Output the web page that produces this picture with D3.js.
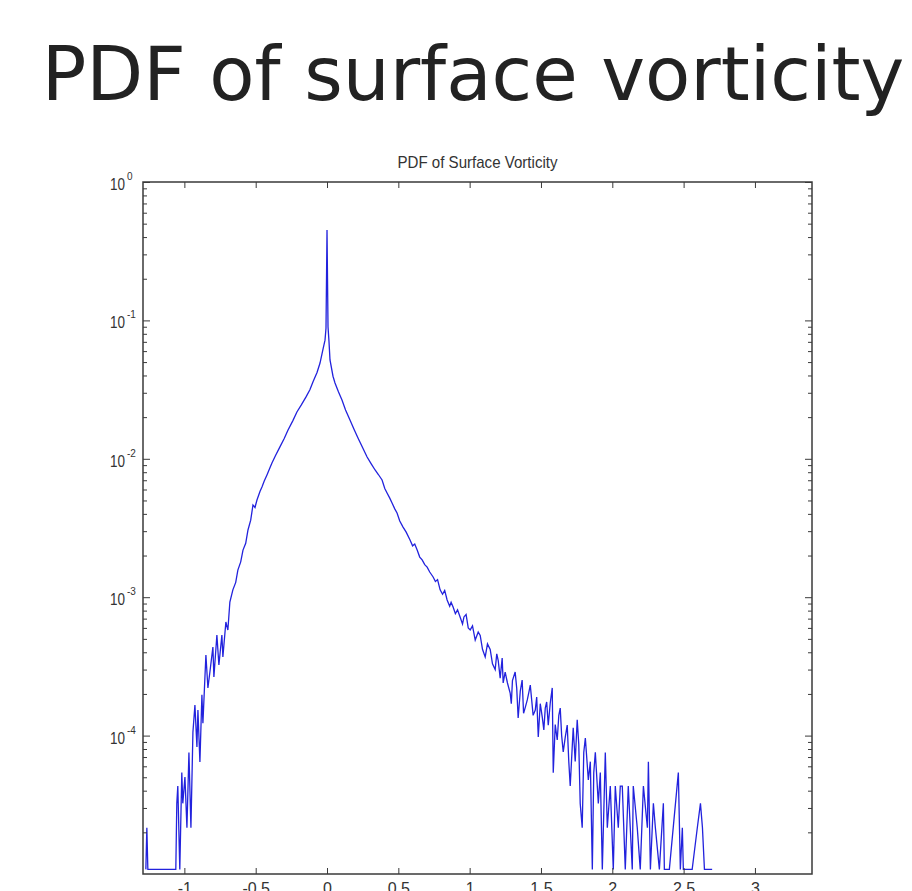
<!DOCTYPE html>
<html>
    <head>
        <meta charset="utf-8">
        <style type="text/css">
            body { margin: 0; background: #fff; }
            svg { display: block; }
        </style>
        <title>PDF of surface vorticity</title>
    </head>
    <body>
        <svg id='svgZone'></svg>
        <script src="https://cdn.jsdelivr.net/npm/d3@7"></script>
        <script>

// ============ Data ============
var PAGE_TITLE = 'PDF of surface vorticity';
var PLOT_TITLE = 'PDF of Surface Vorticity';

// vorticity bins (x) and pdf values (y), left tail -> peak -> right tail
var vortX = [
    -1.270, -1.263, -1.256, -1.060, -1.053, -1.046, -1.032, -1.018, -1.011, -0.996,
    -0.982, -0.968, -0.954, -0.940, -0.926, -0.912, -0.905, -0.891, -0.877, -0.870,
    -0.849, -0.835, -0.821, -0.800, -0.793, -0.772, -0.758, -0.737, -0.730, -0.709,
    -0.695, -0.681, -0.660, -0.640, -0.625, -0.605, -0.589, -0.570, -0.554, -0.535,
    -0.519, -0.505, -0.491, -0.470, -0.456, -0.440, -0.421, -0.400, -0.386, -0.360,
    -0.330, -0.300, -0.274, -0.240, -0.211, -0.180, -0.147, -0.120, -0.098, -0.070,
    -0.049, -0.028, -0.014, -0.007, 0.000, 0.007, 0.014, 0.021, 0.042, 0.056,
    0.080, 0.105, 0.130, 0.161, 0.190, 0.218, 0.250, 0.281, 0.310, 0.337,
    0.360, 0.386, 0.405, 0.421, 0.440, 0.456, 0.475, 0.491, 0.510, 0.533,
    0.555, 0.582, 0.600, 0.615, 0.632, 0.650, 0.667, 0.685, 0.702, 0.720,
    0.744, 0.760, 0.775, 0.793, 0.810, 0.825, 0.842, 0.860, 0.870, 0.884,
    0.900, 0.915, 0.933, 0.950, 0.960, 0.975, 0.990, 1.004, 1.020, 1.039,
    1.060, 1.074, 1.090, 1.109, 1.125, 1.144, 1.160, 1.179, 1.190, 1.200,
    1.214, 1.228, 1.235, 1.249, 1.265, 1.284, 1.292, 1.300, 1.319, 1.330,
    1.340, 1.355, 1.368, 1.378, 1.390, 1.404, 1.415, 1.425, 1.445, 1.460,
    1.470, 1.481, 1.495, 1.509, 1.520, 1.530, 1.540, 1.551, 1.565, 1.579,
    1.586, 1.600, 1.614, 1.625, 1.635, 1.645, 1.656, 1.670, 1.684, 1.695,
    1.705, 1.726, 1.740, 1.754, 1.765, 1.775, 1.789, 1.800, 1.811, 1.832,
    1.846, 1.860, 1.870, 1.881, 1.902, 1.916, 1.930,
    1.951, 1.965, 1.986, 2.007, 2.021, 2.042,
    2.056, 2.070, 2.091, 2.112, 2.126, 2.140, 2.147, 2.175, 2.196, 2.218,
    2.246, 2.253, 2.267, 2.288, 2.302, 2.330, 2.358, 2.365, 2.400, 2.463,
    2.477, 2.491, 2.498, 2.560, 2.596, 2.618, 2.632, 2.646, 2.700
];
var pdfY = [
    1.08e-5, 2.16e-5, 1.08e-5, 1.08e-5, 3.24e-5, 4.32e-5, 1.08e-5, 5.40e-5, 3.24e-5, 5.02e-5,
    2.16e-5, 7.56e-5, 2.16e-5, 1.06e-4, 1.66e-4, 8.27e-5, 1.53e-4, 6.45e-5, 1.97e-4, 1.23e-4,
    3.82e-4, 2.21e-4, 2.88e-4, 4.37e-4, 2.65e-4, 5.33e-4, 3.24e-4, 5.33e-4, 3.70e-4, 6.62e-4,
    5.79e-4, 9.23e-4, 1.13e-3, 1.28e-3, 1.57e-3, 1.80e-3, 2.19e-3, 2.45e-3, 3.06e-3, 3.60e-3,
    4.64e-3, 4.45e-3, 5.04e-3, 5.80e-3, 6.25e-3, 6.90e-3, 7.64e-3, 8.60e-3, 9.33e-3, 1.06e-2,
    1.22e-2, 1.40e-2, 1.61e-2, 1.88e-2, 2.18e-2, 2.45e-2, 2.80e-2, 3.15e-2, 3.60e-2, 4.20e-2,
    4.92e-2, 6.20e-2, 7.20e-2, 8.80e-2, 4.50e-1, 9.00e-2, 7.00e-2, 5.18e-2, 3.95e-2, 3.53e-2,
    3.05e-2, 2.66e-2, 2.25e-2, 1.91e-2, 1.63e-2, 1.41e-2, 1.20e-2, 1.03e-2, 9.20e-3, 8.30e-3,
    7.70e-3, 7.03e-3, 6.10e-3, 5.66e-3, 5.20e-3, 4.80e-3, 4.35e-3, 4.06e-3, 3.55e-3, 3.21e-3,
    2.95e-3, 2.59e-3, 2.35e-3, 2.42e-3, 2.19e-3, 1.95e-3, 1.86e-3, 1.72e-3, 1.65e-3, 1.52e-3,
    1.40e-3, 1.30e-3, 1.34e-3, 1.13e-3, 1.05e-3, 1.12e-3, 9.55e-4, 8.60e-4, 9.20e-4, 8.49e-4,
    7.60e-4, 8.10e-4, 7.19e-4, 6.40e-4, 7.20e-4, 7.50e-4, 6.00e-4, 5.80e-4, 6.20e-4, 4.90e-4,
    5.60e-4, 5.30e-4, 4.20e-4, 3.70e-4, 4.60e-4, 4.20e-4, 3.30e-4, 3.00e-4, 3.90e-4, 3.50e-4,
    2.60e-4, 3.64e-4, 2.40e-4, 2.88e-4, 2.40e-4, 2.03e-4, 1.70e-4, 2.50e-4, 2.88e-4, 2.20e-4,
    1.34e-4, 2.10e-4, 2.52e-4, 1.45e-4, 1.60e-4, 1.81e-4, 2.05e-4, 2.32e-4, 1.40e-4, 1.53e-4,
    1.90e-4, 9.77e-5, 1.70e-4, 1.36e-4, 1.10e-4, 1.58e-4, 1.75e-4, 1.19e-4, 1.72e-4, 2.21e-4,
    5.40e-5, 1.20e-4, 9.30e-5, 1.40e-4, 1.58e-4, 1.00e-4, 7.62e-5, 9.70e-5, 1.19e-4, 6.48e-5,
    4.32e-5, 1.14e-4, 6.50e-5, 1.30e-4, 8.64e-5, 3.24e-5, 2.16e-5, 7.56e-5, 9.60e-5, 4.78e-5,
    6.48e-5, 1.08e-5, 5.40e-5, 7.56e-5, 3.24e-5, 5.40e-5, 1.08e-5,
    7.56e-5, 2.16e-5, 4.32e-5, 1.08e-5, 4.32e-5, 2.16e-5,
    4.32e-5, 4.32e-5, 1.08e-5, 4.32e-5, 2.16e-5, 1.08e-5, 4.32e-5, 2.16e-5, 1.08e-5, 4.32e-5,
    2.16e-5, 6.48e-5, 1.08e-5, 3.24e-5, 2.16e-5, 1.08e-5, 3.24e-5, 1.08e-5, 1.08e-5, 5.40e-5,
    1.08e-5, 2.16e-5, 1.08e-5, 1.08e-5, 2.16e-5, 3.24e-5, 2.16e-5, 1.08e-5, 1.08e-5
];

// axis ticks
var xTicks = [-1, -0.5, 0, 0.5, 1, 1.5, 2, 2.5, 3];
var xTickLabels = ['-1', '-0.5', '0', '0.5', '1', '1.5', '2', '2.5', '3'];
var yTickExps = [0, -1, -2, -3, -4];

// ============ Layout ============
var WIDTH = 912, HEIGHT = 891;
var plot = {left: 143, right: 812, top: 182, bottom: 874};
var LINE_COLOR = '#2222dd';
var FRAME_COLOR = '#3a3a3a';

var svg = d3.select('#svgZone')
    .attr('width', WIDTH)
    .attr('height', HEIGHT);

svg.append('rect')
    .attr('width', WIDTH)
    .attr('height', HEIGHT)
    .attr('fill', '#fff');

// Axis scales
var x = d3.scaleLinear()
    .domain([-1.29, 3.40])
    .range([plot.left, plot.right]);
var y = d3.scaleLog()
    .domain([1e-5, 1])
    .range([plot.bottom, plot.top]);

// ============ Titles ============
svg.append('text')
    .text(PAGE_TITLE)
    .attr('x', 473)
    .attr('y', 100)
    .attr('text-anchor', 'middle')
    .attr('font-family', 'DejaVu Sans')
    .attr('font-size', 74)
    .attr('fill', '#222');

svg.append('text')
    .text(PLOT_TITLE)
    .attr('x', (plot.left + plot.right) / 2)
    .attr('y', 168)
    .attr('text-anchor', 'middle')
    .attr('font-family', 'Liberation Sans')
    .attr('font-size', 17)
    .attr('textLength', 160)
    .attr('lengthAdjust', 'spacingAndGlyphs')
    .attr('fill', '#333');

// ============ Curve ============
svg.append('clipPath')
        .attr('id', 'plotClip')
    .append('rect')
        .attr('x', plot.left)
        .attr('y', plot.top)
        .attr('width', plot.right - plot.left)
        .attr('height', plot.bottom - plot.top);

var points = vortX.map((v, i) => ({vort: v, pdf: pdfY[i]}));
var line = d3.line()
    .x(d => x(d.vort))
    .y(d => y(d.pdf));

svg.append('path')
    .datum(points)
    .attr('clip-path', 'url(#plotClip)')
    .attr('d', line)
    .attr('fill', 'none')
    .attr('stroke', LINE_COLOR)
    .attr('stroke-width', 1.3);

// ============ Axes (ticks point inward, like MATLAB) ============
var majorY = yTickExps.map(e => Math.pow(10, e));
var minorY = y.ticks().filter(v => majorY.indexOf(v) < 0 && v > 1e-5);

function drawAxis(axis, tx, ty) {
    var g = svg.append('g')
        .attr('transform', `translate(${tx}, ${ty})`)
        .call(axis);
    g.select('.domain').remove();
    g.selectAll('.tick line').attr('stroke', FRAME_COLOR).attr('stroke-width', 1);
    return g;
}

// bottom x-axis with labels (the picture cuts them at its lower edge)
var xBottom = drawAxis(d3.axisBottom(x)
    .tickValues(xTicks)
    .tickSize(-6)
    .tickPadding(9)
    .tickFormat((d, i) => xTickLabels[i]), 0, plot.bottom);
xBottom.selectAll('.tick text')
    .attr('font-family', 'Liberation Sans')
    .attr('font-size', 16)
    .attr('fill', '#333');
// top x-axis, ticks only
drawAxis(d3.axisTop(x).tickValues(xTicks).tickSize(-6).tickFormat(''), 0, plot.top);

// left and right y-axes: decades and minor ticks
drawAxis(d3.axisLeft(y).tickValues(majorY).tickSize(-7).tickFormat(''), plot.left, 0);
drawAxis(d3.axisLeft(y).tickValues(minorY).tickSize(-4).tickFormat(''), plot.left, 0);
drawAxis(d3.axisRight(y).tickValues(majorY).tickSize(-7).tickFormat(''), plot.right, 0);
drawAxis(d3.axisRight(y).tickValues(minorY).tickSize(-4).tickFormat(''), plot.right, 0);

// y tick labels written as 10 with a superscript exponent
var yLabels = svg.append('g')
    .attr('font-family', 'Liberation Sans')
    .attr('fill', '#333');
yTickExps.forEach(function(e) {
    var py = y(Math.pow(10, e));
    yLabels.append('text')
        .text('10')
        .attr('x', 110)
        .attr('y', py + 8)
        .attr('font-size', 16)
        .attr('textLength', 15)
        .attr('lengthAdjust', 'spacingAndGlyphs');
    yLabels.append('text')
        .text(e === 0 ? '0' : '-' + Math.abs(e))
        .attr('x', 127)
        .attr('y', py - 2)
        .attr('font-size', 10);
});

// plot frame
svg.append('rect')
    .attr('x', plot.left)
    .attr('y', plot.top)
    .attr('width', plot.right - plot.left)
    .attr('height', plot.bottom - plot.top)
    .attr('fill', 'none')
    .attr('stroke', FRAME_COLOR)
    .attr('stroke-width', 1.5);

        </script>
    </body>
</html>
